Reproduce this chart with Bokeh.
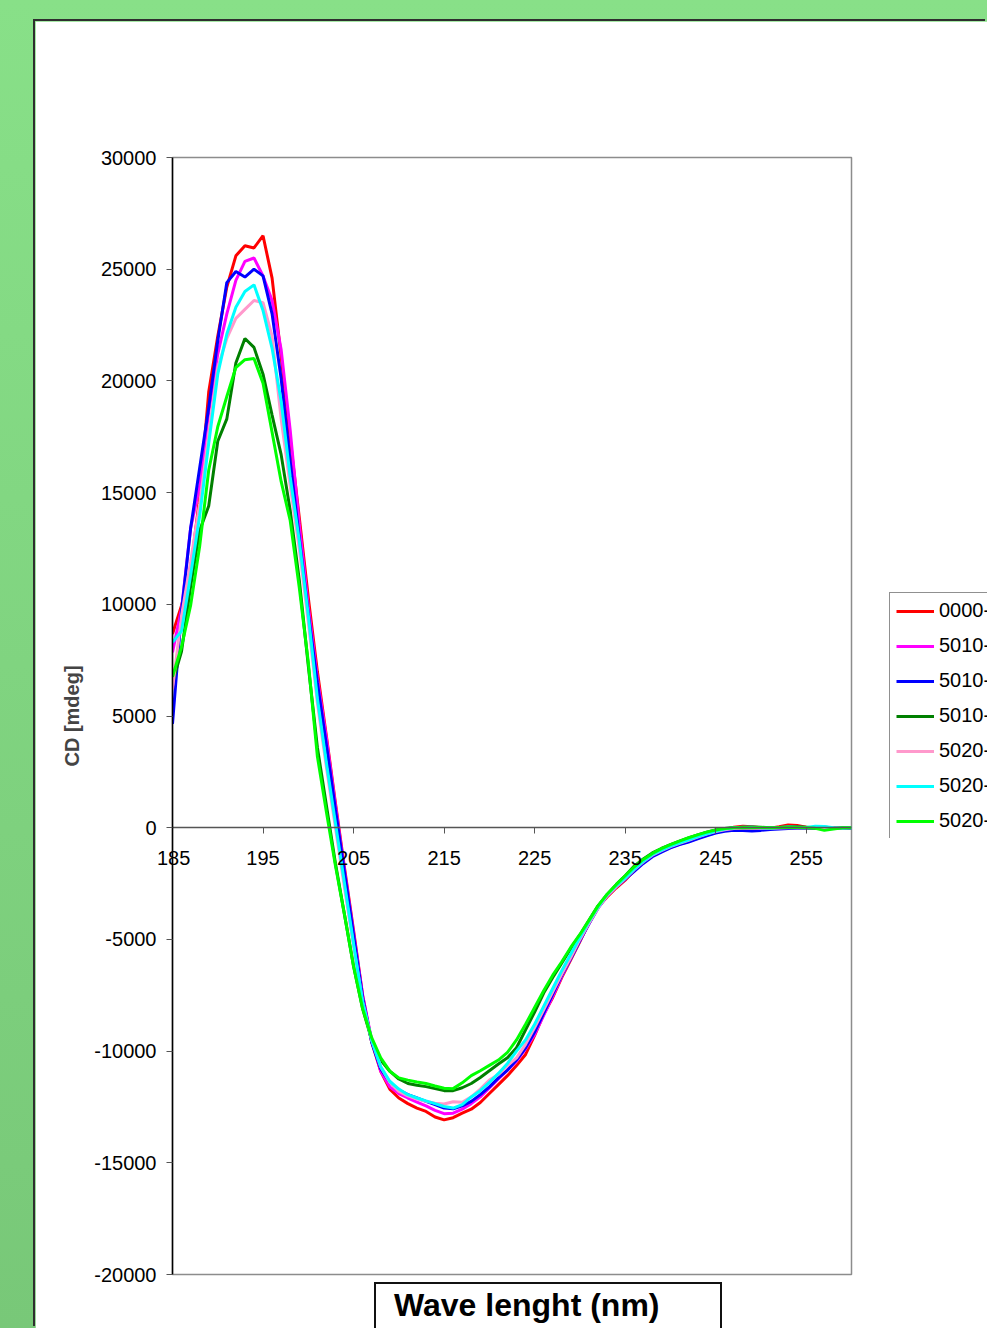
from bokeh.plotting import figure
from bokeh.models import (LinearAxis, FixedTicker, Legend, LegendItem, Range1d, Div)
from bokeh.layouts import column
from bokeh.embed import file_html
from bokeh.resources import INLINE

wavelength = list(range(185, 261))

series_labels = ["0000-0", "5010-1", "5010-2", "5010-3", "5020-1", "5020-2", "5020-3"]
series_colors = ["#FF0000", "#FF00FF", "#0000FF", "#008000", "#FF99CC", "#00FFFF", "#00FF00"]

s_0000 = [
    8670, 9950, 11500, 14800, 19500, 22000, 24200, 25600, 26050, 25950,
    26500, 24600, 21100, 17400, 13900, 10300, 7000, 4100, 1100, -1800,
    -4600, -7500, -9600, -10900, -11700, -12100, -12350, -12550, -12700, -12950,
    -13080, -12980, -12780, -12600, -12300, -11900, -11500, -11100, -10650, -10150,
    -9300, -8350, -7600, -6700, -5900, -5100, -4250, -3550, -3100, -2700,
    -2350, -1900, -1550, -1250, -1050, -850, -720, -600, -450, -300,
    -180, -80, 20, 60, 40, 0, -20, 40, 120, 100,
    20, 0, 30, -20, 0, 10]

s_5010_1 = [
    7850, 9800, 13400, 15300, 18600, 21200, 23000, 24500, 25350, 25500,
    24700, 23600, 21400, 17800, 13600, 9900, 6700, 4000, 1000, -1900,
    -4700, -7500, -9500, -10900, -11600, -11900, -12100, -12280, -12450, -12650,
    -12800, -12780, -12600, -12350, -12050, -11650, -11250, -10850, -10450, -9900,
    -9250, -8400, -7550, -6650, -5850, -5050, -4300, -3550, -3050, -2650,
    -2300, -1900, -1550, -1250, -1050, -880, -740, -620, -470, -320,
    -200, -110, -60, -40, -30, -20, -10, 0, 20, 10,
    -10, 0, 10, -10, 0, -20]

s_5010_2 = [
    4650, 9700, 13400, 16100, 18800, 21800, 24400, 24900, 24650, 25000,
    24700, 23000, 20100, 16400, 13000, 9600, 6500, 3700, 800, -2000,
    -4800, -7600, -9600, -10800, -11400, -11750, -11950, -12100, -12250, -12400,
    -12550, -12580, -12450, -12250, -11950, -11600, -11200, -10850, -10400, -9850,
    -9150, -8300, -7450, -6600, -5850, -5050, -4300, -3600, -3050, -2650,
    -2300, -1950, -1600, -1300, -1100, -900, -760, -640, -500, -360,
    -240, -160, -120, -130, -150, -120, -80, -60, -40, -20,
    -10, -30, -40, -20, -10, -20]

s_5010_3 = [
    6500, 7900, 10800, 13300, 14400, 17300, 18300, 20800, 21900, 21500,
    20300, 18470, 16700, 14200, 11100, 7250, 3600, 1000, -1600, -3900,
    -6200, -8100, -9500, -10400, -10900, -11250, -11450, -11530, -11590, -11680,
    -11770, -11770, -11640, -11450, -11180, -10880, -10580, -10300, -9850, -9050,
    -8250, -7400, -6700, -6050, -5400, -4800, -4150, -3500, -3000, -2550,
    -2150, -1720, -1400, -1130, -930, -760, -600, -460, -320, -200,
    -100, -40, 0, 20, 30, 20, 0, 10, 30, 40,
    20, 0, 10, 0, 10, 0]

s_5020_1 = [
    6200, 9500, 11900, 14500, 17600, 20600, 21900, 22800, 23200, 23600,
    23500, 22000, 18300, 15300, 12500, 9200, 5600, 2700, 0, -2700,
    -5300, -7800, -9500, -10700, -11400, -11800, -12000, -12150, -12250, -12330,
    -12370, -12270, -12290, -12050, -11700, -11300, -11050, -10650, -10300, -9700,
    -8950, -8150, -7350, -6550, -5800, -5000, -4280, -3600, -3050, -2650,
    -2280, -1880, -1530, -1230, -1030, -850, -700, -560, -420, -290,
    -170, -90, -40, -20, -10, -20, -30, -10, 0, 10,
    0, 10, 20, 0, -10, 0]

s_5020_2 = [
    8300, 8800, 11300, 13950, 17200, 20300, 22100, 23300, 24000, 24300,
    23150, 21460, 19100, 15700, 12850, 9500, 5800, 2900, 200, -2500,
    -5200, -7800, -9500, -10700, -11350, -11700, -11950, -12100, -12230, -12350,
    -12480, -12550, -12400, -12050, -11770, -11400, -11000, -10550, -10000, -9500,
    -8800, -8000, -7200, -6400, -5650, -4900, -4200, -3550, -3000, -2600,
    -2250, -1850, -1500, -1200, -1000, -820, -680, -540, -400, -270,
    -150, -60, 0, 20, 20, 0, -10, 10, 30, 20,
    10, 60, 50, 0, -10, 0]

s_5020_3 = [
    6750, 8100, 9950, 12600, 16000, 17950, 19300, 20600, 20950, 21000,
    19900, 17700, 15500, 13750, 10760, 7400, 3200, 700, -1700, -3900,
    -6200, -8100, -9400, -10300, -10900, -11200, -11300, -11380, -11450, -11560,
    -11660, -11680, -11420, -11100, -10880, -10640, -10400, -10060, -9500, -8800,
    -8050, -7300, -6600, -6000, -5350, -4780, -4150, -3500, -2980, -2550,
    -2150, -1750, -1420, -1150, -940, -760, -600, -450, -320, -200,
    -100, -40, 0, 10, 0, 10, 0, 10, 20, 10,
    0, -30, -120, -60, 0, 0]

all_series = [s_0000, s_5010_1, s_5010_2, s_5010_3, s_5020_1, s_5020_2, s_5020_3]

x_ticks = [185, 195, 205, 215, 225, 235, 245, 255]
y_ticks = [-20000, -15000, -10000, -5000, 0, 5000, 10000, 15000, 20000, 25000, 30000]
x_title = "Wave lenght (nm)"
y_title = "CD [mdeg]"

FONT = "Liberation Sans"

# ---------------- main chart ----------------
p = figure(width=952, height=1307,
           x_range=Range1d(185, 260), y_range=Range1d(-20000, 30000),
           output_backend="svg", toolbar_location=None, x_axis_location=None,
           y_axis_location="left", title=None,
           min_border_left=137, min_border_right=136, min_border_top=136, min_border_bottom=54,
           background_fill_color="white", border_fill_color="white",
           outline_line_color="#8c8c8c", outline_line_width=1.5)
p.grid.visible = False

yax = p.yaxis[0]
yax.ticker = FixedTicker(ticks=y_ticks)
yax.major_label_overrides = {t: str(t) for t in y_ticks}
yax.axis_line_color = "black"
yax.axis_line_width = 1.5
yax.major_tick_line_color = "#555555"
yax.major_tick_out = 6
yax.major_tick_in = 0
yax.minor_tick_out = 0
yax.minor_tick_in = 0
yax.major_label_text_font = FONT
yax.major_label_text_font_size = "20px"
yax.major_label_text_color = "black"
yax.major_label_standoff = 10
yax.axis_label = y_title
yax.axis_label_text_font = FONT
yax.axis_label_text_font_style = "bold"
yax.axis_label_text_font_size = "20px"
yax.axis_label_standoff = 8

x_overrides = {t: str(t) for t in x_ticks}
x_overrides[x_ticks[0]] = ""  # drawn as a separate text so it is not clipped at the frame edge
xax = LinearAxis(fixed_location=0, ticker=FixedTicker(ticks=x_ticks),
                 major_label_overrides=x_overrides,
                 axis_line_color="#555555", axis_line_width=1.5,
                 major_tick_line_color="#555555", major_tick_out=6, major_tick_in=0,
                 minor_tick_out=0, minor_tick_in=0,
                 major_label_text_font=FONT, major_label_text_font_size="20px",
                 major_label_text_color="black", major_label_standoff=17)
p.add_layout(xax, "below")

for col, ser in zip(series_colors, all_series):
    p.line(wavelength, ser, line_color=col, line_width=3)

p.margin = (21, 0, 0, 35)
p.styles = {"box-shadow": "-2px -2px 0px 0px #2e2e2e"}

# ---------------- legend (own small canvas, cut by the window edge) ----------------
lf = figure(width=140, height=246, x_range=Range1d(0, 1), y_range=Range1d(0, 1),
            output_backend="svg", toolbar_location=None, x_axis_location=None,
            y_axis_location=None, title=None, min_border=0,
            outline_line_color=None, background_fill_alpha=0, border_fill_alpha=0)
lf.grid.visible = False
items = []
for lab, col, ser in zip(series_labels, series_colors, all_series):
    r = lf.line(wavelength, ser, line_color=col, line_width=3)
    items.append(LegendItem(label=lab, renderers=[r]))
legend = Legend(items=items, location="top_left", margin=0, padding=6, spacing=12,
                glyph_width=38, glyph_height=20, label_height=20, label_standoff=5,
                label_text_font=FONT, label_text_font_size="20px", label_text_color="black",
                border_line_color="#222222", border_line_width=1,
                background_fill_color="white", background_fill_alpha=1.0)
lf.add_layout(legend)
lf.margin = (0, 0, 0, 0)
lf.styles = {"position": "absolute", "left": "885px", "top": "592px", "z-index": "4"}

# ---------------- x-axis title box ----------------
title_box = Div(text=x_title, margin=(0, 0, 0, 0),
                styles={"position": "absolute", "left": "374px", "top": "1282px",
                        "border": "2px solid #111111", "background": "white",
                        "padding": "3px 61px 40px 18px",
                        "font-family": FONT, "font-size": "32px", "font-weight": "bold",
                        "line-height": "37px", "color": "black", "white-space": "nowrap",
                        "z-index": "5"})

first_tick = Div(text=str(x_ticks[0]), margin=(0, 0, 0, 0),
                 styles={"position": "absolute", "left": "157px", "top": "848px",
                         "font-family": FONT, "font-size": "20px", "line-height": "20px",
                         "color": "black", "z-index": "5"})

page = column(p, lf, title_box, first_tick, width=987, height=1328,
              styles={"background": "linear-gradient(to bottom, #88e088, #78c878)",
                      "overflow": "hidden", "position": "relative"})

open("out.html", "w").write(file_html(page, INLINE))
